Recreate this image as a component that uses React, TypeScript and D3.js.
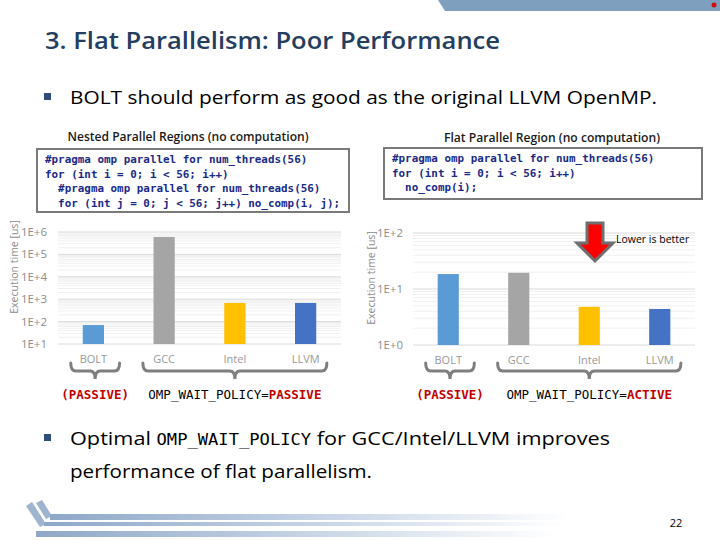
import * as d3 from "d3";
import React from "react";

const categories = ["BOLT", "GCC", "Intel", "LLVM"];
const nestedTimes = [70, 600000, 680, 680];
const flatTimes = [18.5, 19.5, 4.8, 4.4];
const nestedTicks = [1e1, 1e2, 1e3, 1e4, 1e5, 1e6];
const flatTicks = [1, 10, 100];
const barColors = ["#5b9bd5", "#a5a5a5", "#ffc000", "#4472c4"];
const nestedCode = [
  "#pragma omp parallel for num_threads(56)",
  "for (int i = 0; i < 56; i++)",
  "  #pragma omp parallel for num_threads(56)",
  "  for (int j = 0; j < 56; j++) no_comp(i, j);",
];
const flatCode = [
  "#pragma omp parallel for num_threads(56)",
  "for (int i = 0; i < 56; i++)",
  "  no_comp(i);",
];

const sans = "'Open Sans', 'Noto Sans', sans-serif";
const mono = "'DejaVu Sans Mono', 'Liberation Mono', monospace";

const fmtExp = (v: number) => "1E+" + Math.round(Math.log10(v));

type ChartProps = {
  left: number; right: number; top: number; bottom: number;
  domain: [number, number]; ticks: number[]; values: number[];
  labelRight: number; titleX: number; titleY: number;
  policy: string;
};

const LogBars: React.FC<ChartProps> = ({ left, right, top, bottom, domain, ticks, values, labelRight, titleX, titleY, policy }) => {
  const y = d3.scaleLog().domain(domain).range([bottom, top]);
  const x = d3.scaleBand<string>().domain(categories).range([left, right]).paddingInner(0.7).paddingOuter(0.35);

  // minor grid: 2..9 inside every decade
  const minors: number[] = [];
  ticks.slice(0, -1).forEach(t => { for (let k = 2; k < 10; k++) minors.push(t * k); });

  const cx = (c: string) => (x(c) as number) + x.bandwidth() / 2;
  const brace = (x0: number, x1: number) => {
    const m = (x0 + x1) / 2, a = 363, b = 371;
    return `M${x0},${a} Q${x0},${b} ${x0 + 5},${b} L${m - 5},${b} Q${m},${b} ${m},${b + 8} Q${m},${b} ${m + 5},${b} L${x1 - 5},${b} Q${x1},${b} ${x1},${a}`;
  };
  const step = x.step();
  const b0 = x("BOLT") as number, g0 = x("GCC") as number, l0 = x("LLVM") as number;
  const boltL = b0 - step * 0.17, boltR = b0 + x.bandwidth() + step * 0.22;
  const grpL = g0 - step * 0.15, grpR = l0 + x.bandwidth() + step * 0.15;

  return (
    <g>
      {minors.map((v, i) => <line key={"m" + i} x1={left} x2={right} y1={y(v)} y2={y(v)} stroke="#f0f0f0" />)}
      {ticks.map(v => <line key={"t" + v} x1={left} x2={right} y1={y(v)} y2={y(v)} stroke="#d9d9d9" />)}
      {ticks.map(v => (
        <text key={"l" + v} x={labelRight} y={y(v) + 4} textAnchor="end" fontFamily={sans} fontSize={11.5} fill="#8c8c8c">{fmtExp(v)}</text>
      ))}
      <text transform={`translate(${titleX},${titleY}) rotate(-90)`} textAnchor="middle" fontFamily={sans} fontSize={10.5} fill="#8c8c8c">Execution time [us]</text>
      {values.map((v, i) => (
        <rect key={categories[i]} x={x(categories[i])} y={y(v)} width={x.bandwidth()} height={bottom - y(v)} fill={barColors[i]} />
      ))}
      {categories.map(c => (
        <text key={"c" + c} x={cx(c)} y={bottom + 19} textAnchor="middle" fontFamily={sans} fontSize={11} fill="#999">{c}</text>
      ))}
      <path d={brace(boltL, boltR)} fill="none" stroke="#7f7f7f" strokeWidth={3} strokeLinecap="round" />
      <path d={brace(grpL, grpR)} fill="none" stroke="#7f7f7f" strokeWidth={3} strokeLinecap="round" />
      <text x={(boltL + boltR) / 2} y={399} textAnchor="middle" fontFamily={mono} fontWeight="bold" fontSize={12.5} fill="#c00000">(PASSIVE)</text>
      <text x={(grpL + grpR) / 2} y={399} textAnchor="middle" fontFamily={mono} fontSize={12.5} fill="#000">
        OMP_WAIT_POLICY=<tspan fill="#c00000" fontWeight="bold">{policy}</tspan>
      </text>
    </g>
  );
};

const CodeBox: React.FC<{ x: number; y: number; w: number; h: number; lines: string[] }> = ({ x, y, w, h, lines }) => (
  <g>
    <rect x={x} y={y} width={w} height={h} fill="#fff" stroke="#7a7a7a" strokeWidth={2} />
    {lines.map((l, i) => (
      <text key={i} x={x + 8} y={y + 14 + i * 14.5} fontFamily={mono} fontWeight="bold" fontSize={10.9} fill="#1a2a86" style={{ whiteSpace: "pre" }}>{l}</text>
    ))}
  </g>
);

export default function App() {
  return (
    <svg width={720} height={540} style={{ position: "absolute", left: 0, top: 0, background: "#fff" }}>
      <defs>
        <linearGradient id="fade" x1="0" x2="1" y1="0" y2="0">
          <stop offset="0" stopColor="#8ea8c8" />
          <stop offset="0.5" stopColor="#c4d2e4" />
          <stop offset="1" stopColor="#ffffff" />
        </linearGradient>
      </defs>
      {/* header band */}
      <path d="M438,0 L720,0 L720,11 L445,11 Z" fill="#7f9fbf" />
      <circle cx={714} cy={5} r={2.5} fill="#d01010" />
      <text x={45} y={49} fontFamily={sans} fontWeight={600} fontSize={23} fill="#253e5e" textLength={455} lengthAdjust="spacingAndGlyphs">3. Flat Parallelism: Poor Performance</text>

      <rect x={44} y={93} width={7} height={7} fill="#2e4d7b" />
      <text x={70} y={104} fontFamily={sans} fontSize={19} fill="#000" textLength={587} lengthAdjust="spacingAndGlyphs">BOLT should perform as good as the original LLVM OpenMP.</text>

      <text x={188} y={141} textAnchor="middle" fontFamily={sans} fontWeight={600} fontSize={12} fill="#1a1a1a" textLength={241} lengthAdjust="spacingAndGlyphs">Nested Parallel Regions (no computation)</text>
      <text x={552} y={142} textAnchor="middle" fontFamily={sans} fontWeight={600} fontSize={12} fill="#1a1a1a" textLength={216} lengthAdjust="spacingAndGlyphs">Flat Parallel Region (no computation)</text>

      <CodeBox x={37} y={149} w={312} h={63} lines={nestedCode} />
      <CodeBox x={384} y={148} w={318} h={51} lines={flatCode} />

      <LogBars left={58} right={341} top={232} bottom={344} domain={[10, 1e6]} ticks={nestedTicks} values={nestedTimes}
        labelRight={47} titleX={18} titleY={267} policy="PASSIVE" />
      <LogBars left={413} right={695} top={233} bottom={345} domain={[1, 100]} ticks={flatTicks} values={flatTimes}
        labelRight={403} titleX={375} titleY={278} policy="ACTIVE" />

      {/* lower-is-better arrow */}
      <path d="M587,223 L603,223 L603,243 L613,243 L595,261 L577,243 L587,243 Z" fill="#ff0000" stroke="#6f6f6f" strokeWidth={3} strokeLinejoin="miter" />
      <text x={616} y={243} fontFamily={sans} fontSize={10.5} fill="#000">Lower is better</text>

      <rect x={44} y={434} width={7} height={7} fill="#2e4d7b" />
      <text x={70} y={445} fontFamily={sans} fontSize={19} fill="#000" textLength={540} lengthAdjust="spacingAndGlyphs">
        Optimal <tspan fontFamily={mono} fontSize={15}>OMP_WAIT_POLICY</tspan> for GCC/Intel/LLVM improves
      </text>
      <text x={70} y={478} fontFamily={sans} fontSize={19} fill="#000" textLength={302} lengthAdjust="spacingAndGlyphs">performance of flat parallelism.</text>

      {/* footer decoration */}
      <path d="M26,506 L32,502 L46,524 L40,527 Z" fill="#9fb4cf" />
      <path d="M36,503 L42,500 L52,516 L46,519 Z" fill="#9fb4cf" />
      <rect x={50} y={514} width={520} height={6} fill="url(#fade)" />
      <rect x={44} y={522} width={520} height={4} fill="url(#fade)" />
      <rect x={36} y={531} width={520} height={6} fill="url(#fade)" />
      <text x={676} y={527} textAnchor="middle" fontFamily={sans} fontSize={11} fill="#000">22</text>
    </svg>
  );
}
